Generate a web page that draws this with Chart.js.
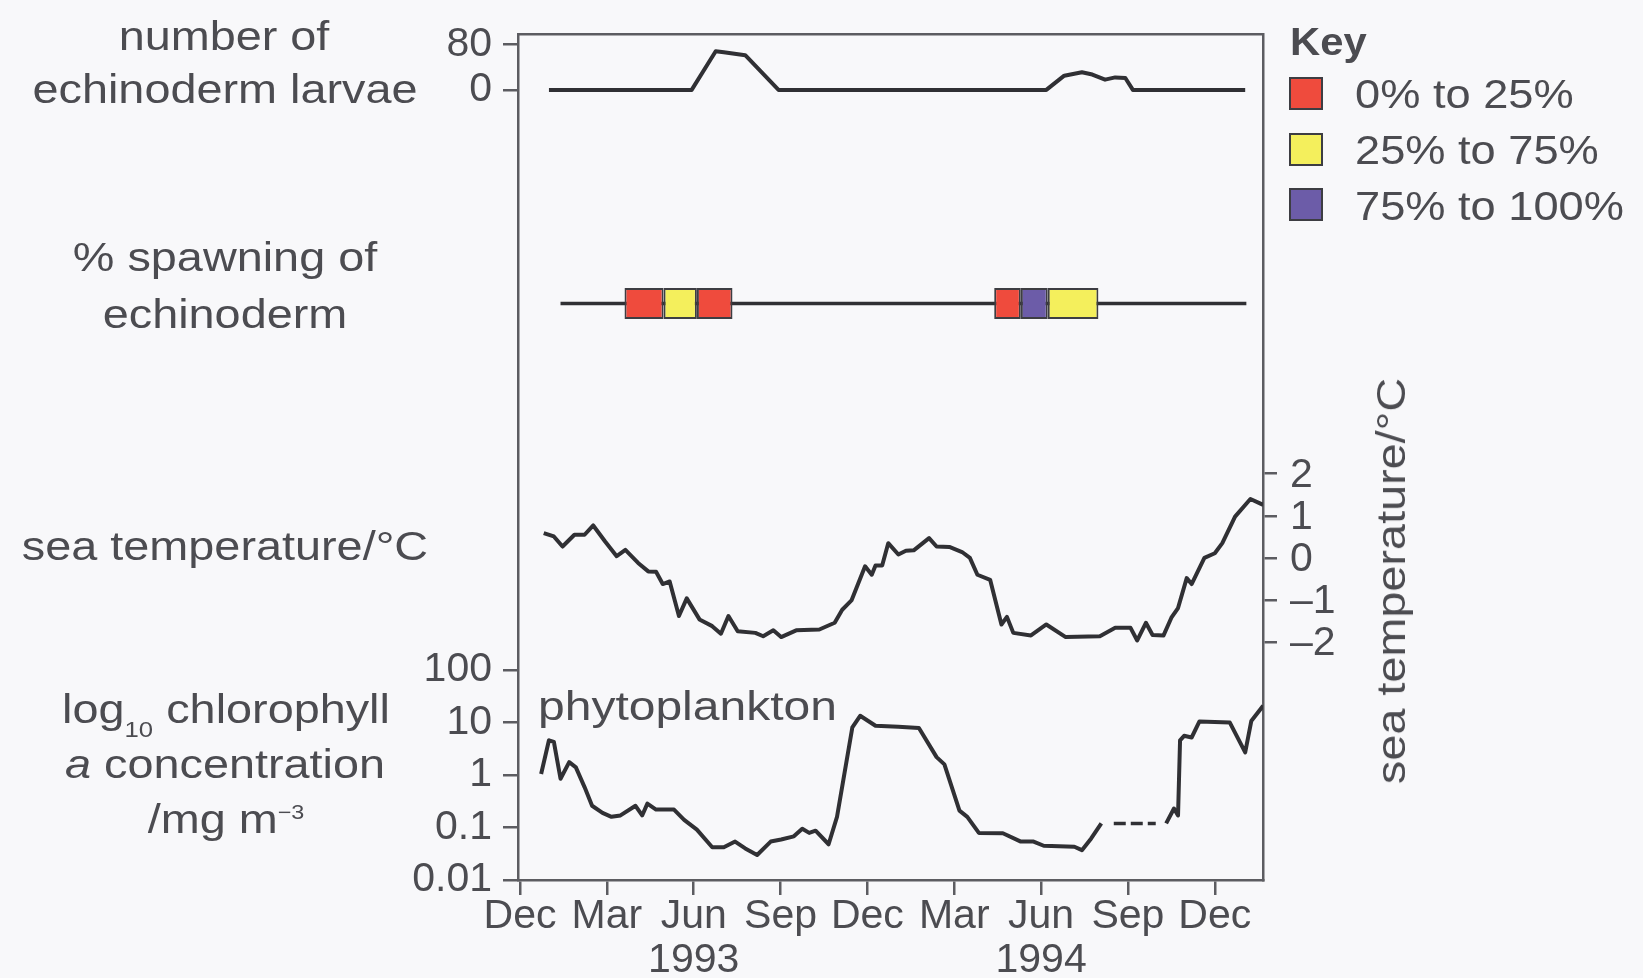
<!DOCTYPE html>
<html>
<head>
<meta charset="utf-8">
<title>Echinoderm larvae, spawning, sea temperature and chlorophyll</title>
<script src="https://cdn.jsdelivr.net/npm/chart.js@4.4.1/dist/chart.umd.min.js"></script>
<style>
	body { margin: 0; background: #f8f8fa; }
	#wrap { position: relative; width: 1643px; height: 978px; overflow: hidden; }
	canvas { position: absolute; left: 0; top: 0; }
	.lab {
		position: absolute;
		font-family: 'Liberation Sans', Arial, Helvetica, sans-serif;
		font-size: 40px;
		line-height: 40px;
		color: #4c4c51;
		white-space: nowrap;
	}
	.c { transform: translateX(-50%) scaleX(1.17); }
	.l { transform-origin: 0 50%; transform: scaleX(1.2); }
	.lab span { line-height: 0; position: relative; }
	.sq { position: absolute; width: 34px; height: 33px; box-sizing: border-box; border: 2px solid #3d3d42; }
</style>
</head>
<body>
<div id="wrap">
	<canvas id="chart" width="1643" height="978"></canvas>
	<canvas id="larvae" width="1643" height="978"></canvas>

	<div class="lab c" style="left:224px; top:16px;">number of</div>
	<div class="lab c" style="left:225px; top:69px;">echinoderm larvae</div>
	<div class="lab c" style="left:225px; top:237px;">% spawning of</div>
	<div class="lab c" style="left:225px; top:294px;">echinoderm</div>
	<div class="lab c" style="left:225px; top:526px;">sea temperature/°C</div>
	<div class="lab c" style="left:226px; top:689px;">log<span style="font-size:22px; top:14px;">10</span> chlorophyll</div>
	<div class="lab c" style="left:225px; top:744px;"><i>a</i> concentration</div>
	<div class="lab c" style="left:226px; top:799px;">/mg m<span style="font-size:20px; top:-14px;">−3</span></div>

	<div class="lab l" style="left:538px; top:686px;">phytoplankton</div>

	<div class="lab" style="left:1391px; top:581px; transform: translate(-50%, -50%) rotate(-90deg) scaleX(1.17);">sea temperature/°C</div>

	<div class="lab" style="left:1290px; top:23px; font-size:38px; line-height:38px; font-weight:bold; transform-origin:0 50%; transform:scaleX(1.1);">Key</div>
	<div id="key"></div>
</div>

<script>
// months counted from December 1992
const monthTicks = [0, 3, 6, 9, 12, 15, 18, 21, 24];
const monthLabels = ['Dec', 'Mar', ['Jun', '1993'], 'Sep', 'Dec', 'Mar', ['Jun', '1994'], 'Sep', 'Dec'];

// number of echinoderm larvae
const larvaeMonths = [1.0, 5.93, 6.76, 7.04, 7.78, 8.93, 18.18, 18.8, 19.41, 19.77, 20.21, 20.56, 20.91, 21.17, 25.05];
const larvaeCounts = [0, 0, 68, 66, 61, 0, 0, 25, 31, 27, 18, 22, 21, 0, 0];
const larvaeTicks = [0, 80];

// % spawning periods, coloured by key class
const keyLabels = ['0% to 25%', '25% to 75%', '75% to 100%'];
const spawnStart = [3.61, 4.96, 6.11, 16.38, 17.30, 18.23];
const spawnEnd = [4.96, 6.11, 7.34, 17.30, 18.23, 19.98];
const spawnClass = [0, 1, 0, 0, 2, 1];
const spawnLineMonths = [1.40, 25.09];

// sea temperature / degC
const tempMonths = [0.82, 1.17, 1.47, 1.88, 2.23, 2.53, 2.94, 3.34, 3.64, 4.08,
	4.43, 4.70, 4.93, 5.17, 5.49, 5.76, 6.20, 6.64, 6.94, 7.20,
	7.52, 8.13, 8.40, 8.75, 9.02, 9.54, 10.34, 10.87, 11.13, 11.45,
	11.92, 12.15, 12.28, 12.51, 12.72, 13.07, 13.33, 13.60, 14.13, 14.39,
	14.83, 15.27, 15.54, 15.80, 16.24, 16.63, 16.82, 17.04, 17.65, 18.18,
	18.85, 20.03, 20.56, 21.09, 21.32, 21.62, 21.85, 22.23, 22.50, 22.73,
	23.03, 23.20, 23.64, 24.00, 24.26, 24.70, 25.23, 25.67];
const tempValues = [0.59, 0.51, 0.27, 0.55, 0.55, 0.77, 0.39, 0.04, 0.19, -0.12,
	-0.32, -0.33, -0.62, -0.56, -1.38, -0.96, -1.46, -1.62, -1.80, -1.38,
	-1.74, -1.78, -1.86, -1.72, -1.88, -1.72, -1.70, -1.54, -1.23, -1.01,
	-0.20, -0.40, -0.18, -0.18, 0.35, 0.08, 0.17, 0.18, 0.47, 0.27,
	0.26, 0.14, 0.00, -0.40, -0.52, -1.58, -1.40, -1.78, -1.84, -1.58,
	-1.88, -1.86, -1.66, -1.66, -1.96, -1.54, -1.83, -1.84, -1.42, -1.19,
	-0.48, -0.62, 0.00, 0.11, 0.35, 0.98, 1.40, 1.26];
const tempTicks = [-2, -1, 0, 1, 2];
const tempTickLabels = ['–2', '–1', '0', '1', '2'];

// chlorophyll a / mg m-3 (null = no samples)
const chlMonths = [0.73, 1.0, 1.17, 1.40, 1.70, 1.93, 2.23, 2.49, 2.85, 3.16,
	3.47, 3.99, 4.22, 4.40, 4.70, 5.32, 5.67, 6.11, 6.64, 7.04,
	7.43, 7.78, 8.19, 8.66, 9.02, 9.46, 9.75, 9.99, 10.21, 10.66,
	10.95, 11.48, 11.75, 12.28, 13.07, 13.78, 14.39, 14.66, 15.18, 15.45,
	15.85, 16.68, 17.30, 17.74, 18.09, 19.15, 19.41, 19.73, 20.08, 21.2,
	22.32, 22.59, 22.73, 22.80, 22.94, 23.20, 23.47, 24.52, 25.05, 25.26, 25.67];
const chlValues = [1.05, 4.6, 4.3, 0.85, 1.76, 1.4, 0.59, 0.26, 0.19, 0.16,
	0.17, 0.26, 0.17, 0.285, 0.22, 0.22, 0.14, 0.091, 0.042, 0.042,
	0.054, 0.040, 0.030, 0.054, 0.059, 0.068, 0.095, 0.079, 0.087, 0.048,
	0.16, 8.1, 13.5, 8.7, 8.3, 7.9, 2.2, 1.6, 0.21, 0.16,
	0.079, 0.078, 0.054, 0.054, 0.045, 0.043, 0.037, 0.062, 0.12, null,
	0.12, 0.23, 0.17, 4.6, 5.6, 5.2, 10.5, 10, 2.7, 10.7, 21];
const chlGapMonths = [20.51, 21.96];
const chlGapValues = [0.12, 0.12];
const chlTicks = [0.01, 0.1, 1, 10, 100];
const chlTickLabels = ['0.01', '0.1', '1', '10', '100'];

const keyColors = ['#ef4b3d', '#f4ef5c', '#6c5ca8'];
const ink = '#303034';
const frame = '#5c5c61';
const textGrey = '#4c4c51';
const tickFont = { family: "'Liberation Sans', Arial, Helvetica, sans-serif", size: 41, lineHeight: 1.06 };

// key on the right
const $key = document.getElementById('key');
keyLabels.forEach((label, k) => {
	const sq = document.createElement('div');
	sq.className = 'sq';
	sq.style.left = '1289px';
	sq.style.top = (77 + k * 55.5) + 'px';
	sq.style.background = keyColors[k];
	$key.appendChild(sq);

	const txt = document.createElement('div');
	txt.className = 'lab';
	txt.style.left = '1355px';
	txt.style.top = (74 + k * 56) + 'px';
	txt.style.transformOrigin = '0 50%';
	txt.style.transform = 'scaleX(1.13)';
	txt.textContent = label;
	$key.appendChild(txt);
});

function xy(xs, ys) {
	return xs.map((x, i) => ({ x: x, y: ys[i] }));
}

// fixed axis sizes so both canvases share the same plot frame
function width(w) { return axis => { axis.width = w; }; }
function height(h) { return axis => { axis.height = h; }; }
function fixedTicks(values) {
	return axis => { axis.ticks = values.map(v => ({ value: v })); };
}
function tickGrid(len) {
	return { drawOnChartArea: false, drawTicks: true, tickLength: len, color: frame, lineWidth: 2.5 };
}

const monthMin = -0.069;
const monthMax = 25.665;

const lineStyle = {
	type: 'line',
	xAxisID: 'x',
	borderColor: ink,
	borderWidth: 4,
	pointRadius: 0,
	tension: 0,
	borderJoinStyle: 'round',
	fill: false,
	order: 1
};

const spawnBars = keyLabels.map((label, k) => ({
	type: 'bar',
	label: label,
	indexAxis: 'y',
	xAxisID: 'x',
	yAxisID: 'ySpawn',
	grouped: false,
	data: spawnClass
		.map((c, i) => c === k ? { y: 0, x: [spawnStart[i], spawnEnd[i]] } : null)
		.filter(d => d !== null),
	backgroundColor: keyColors[k],
	borderColor: '#3d3d42',
	borderWidth: 2,
	borderSkipped: false,
	barPercentage: 1,
	maxBarThickness: 31,
	order: 0
}));

const common = {
	responsive: false,
	animation: false,
	events: [],
	plugins: { legend: { display: false }, tooltip: { enabled: false } }
};

// spawning, sea temperature, chlorophyll and the frame
new Chart(document.getElementById('chart'), {
	type: 'line',
	data: {
		datasets: [
			Object.assign({}, lineStyle, { data: xy(spawnLineMonths, [0, 0]), yAxisID: 'ySpawn', borderWidth: 3.5, order: 2 }),
			...spawnBars,
			Object.assign({}, lineStyle, { data: xy(tempMonths, tempValues), yAxisID: 'yTemp' }),
			Object.assign({}, lineStyle, { data: xy(chlMonths, chlValues), yAxisID: 'yChl', spanGaps: false }),
			Object.assign({}, lineStyle, { data: xy(chlGapMonths, chlGapValues), yAxisID: 'yChl', borderWidth: 3.5, borderDash: [12, 5] })
		]
	},
	options: Object.assign({}, common, {
		layout: { padding: { left: 398, right: 260, top: 31, bottom: 0 } },
		scales: {
			x: {
				type: 'linear', position: 'bottom', min: monthMin, max: monthMax,
				afterFit: height(98),
				afterBuildTicks: fixedTicks(monthTicks),
				ticks: { callback: (v, i) => monthLabels[i], autoSkip: false, maxRotation: 0, padding: 0, font: tickFont, color: textGrey },
				grid: tickGrid(15),
				border: { color: frame, width: 2.5 }
			},
			xTop: {
				type: 'linear', position: 'top', min: monthMin, max: monthMax,
				afterFit: height(0),
				ticks: { display: false },
				grid: { display: false },
				border: { color: frame, width: 2.5 }
			},
			yChl: {
				type: 'logarithmic', position: 'left', min: 0.01, max: 1.29e14,
				afterFit: width(120),
				afterBuildTicks: fixedTicks(chlTicks),
				ticks: { callback: (v, i) => chlTickLabels[i], autoSkip: false, padding: 11, font: tickFont, color: textGrey },
				grid: tickGrid(15),
				border: { color: frame, width: 2.5 }
			},
			yTemp: {
				type: 'linear', position: 'right', min: -7.648, max: 12.423,
				afterFit: width(120),
				afterBuildTicks: fixedTicks(tempTicks),
				ticks: { callback: (v, i) => tempTickLabels[i], autoSkip: false, padding: 13, labelOffset: 2, font: tickFont, color: textGrey },
				grid: tickGrid(14),
				border: { color: frame, width: 2.5 }
			},
			ySpawn: {
				type: 'linear', display: false, offset: false, min: -2.144, max: 1
			}
		}
	})
});

// larvae counts have their own left axis, drawn on a second canvas over the same frame
new Chart(document.getElementById('larvae'), {
	type: 'line',
	data: {
		datasets: [
			Object.assign({}, lineStyle, { data: xy(larvaeMonths, larvaeCounts), yAxisID: 'yLarvae' })
		]
	},
	options: Object.assign({}, common, {
		layout: { padding: { left: 398, right: 380, top: 31, bottom: 98 } },
		scales: {
			x: { type: 'linear', display: false, min: monthMin, max: monthMax },
			yLarvae: {
				type: 'linear', position: 'left', min: -1389, max: 100.5,
				afterFit: width(120),
				afterBuildTicks: fixedTicks(larvaeTicks),
				ticks: { autoSkip: false, padding: 11, font: tickFont, color: textGrey },
				grid: tickGrid(15),
				border: { display: false }
			}
		}
	})
});
</script>
</body>
</html>
